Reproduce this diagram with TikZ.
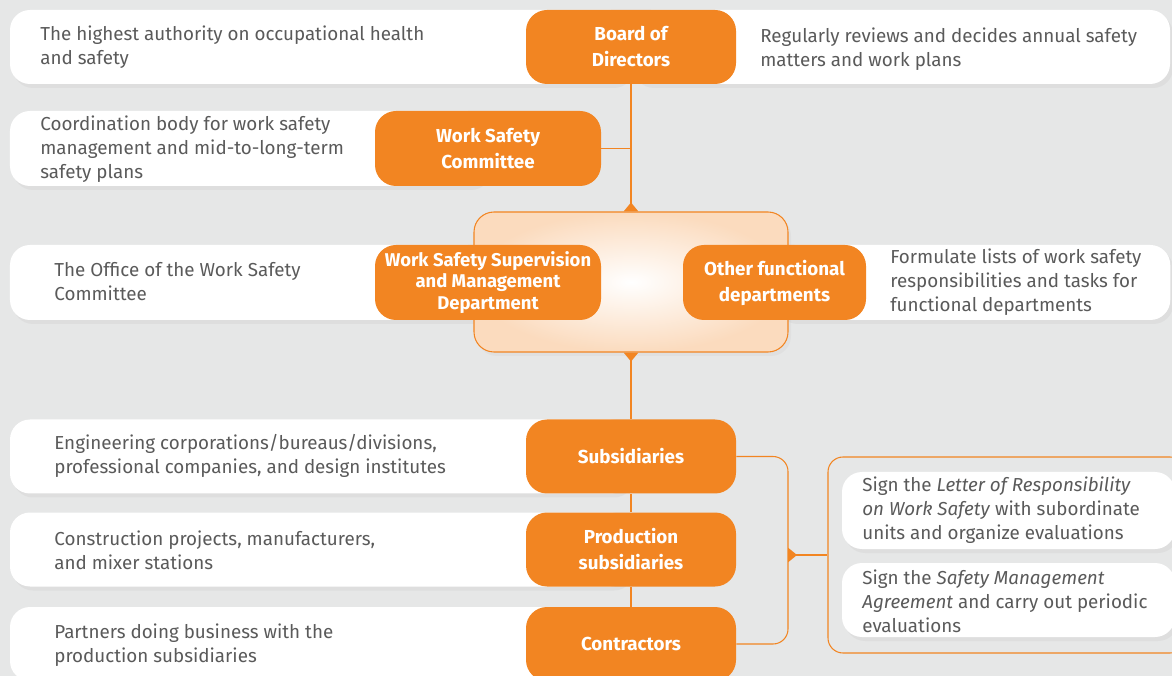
\documentclass[tikz,border=0pt]{standalone}
\usepackage{fontspec}
\setmainfont{Fira Sans}
\usetikzlibrary{positioning,shadows,arrows.meta}

\definecolor{bgGray}{HTML}{E6E7E7}
\definecolor{safeOrange}{HTML}{F28522}
\definecolor{peach}{HTML}{FBDBBE}
\definecolor{txtGray}{HTML}{5A5A5A}

\tikzset{
	card/.style={fill=white, rounded corners=0.4cm, minimum height=1.48cm, inner sep=0,
		drop shadow={opacity=0.08, shadow xshift=0.6mm, shadow yshift=-0.8mm}},
	unit/.style={fill=safeOrange, rounded corners=0.42cm, text=white, align=center,
		minimum height=1.48cm, inner sep=0, font=\fontsize{10.7}{14.8}\selectfont\bfseries},
	desc/.style={anchor=west, align=left, text=txtGray, inner sep=0,
		font=\fontsize{10.7}{13.7}\selectfont},
	link/.style={safeOrange, line width=0.6pt},
	tri/.tip={Triangle[reversed, width=2.9mm, length=1.8mm]}
}

\begin{document}
\begin{tikzpicture}
	\fill[bgGray] (0,0) rectangle (23.44,-13.52);
	\useasboundingbox (0,0) rectangle (23.44,-13.52);
	\clip (0,0) rectangle (23.44,-13.52);

	\node[card, minimum width=12.42cm] (c1l) at (6.41,-0.94) {};
	\node[card, minimum width=10.78cm] (c1r) at (18.01,-0.94) {};
	\node[card, minimum width=9.56cm, minimum height=1.5cm] (c2l) at (4.98,-2.97) {};
	\node[card, minimum width=9.56cm, minimum height=1.5cm] (c3l) at (4.98,-5.65) {};
	\node[card, minimum width=7.91cm, minimum height=1.5cm] (c3r) at (19.45,-5.65) {};
	\node[card, minimum width=12.42cm] (c4l) at (6.41,-9.13) {};
	\node[card, minimum width=12.42cm] (c5l) at (6.41,-10.99) {};
	\node[card, minimum width=12.42cm] (c6l) at (6.41,-12.88) {};

	\node[draw=safeOrange, line width=0.6pt, rounded corners=0.4cm, minimum width=6.28cm, minimum height=2.8cm,
		inner color=white, outer color=peach, drop shadow={opacity=0.06, shadow xshift=0.6mm, shadow yshift=-0.8mm}] (hub) at (12.62,-5.64) {};
	\node[draw=safeOrange, line width=0.6pt, rounded corners=0.3cm, minimum width=7.14cm, minimum height=3.92cm] (group) at (20.13,-11.1) {};
	\node[card, minimum width=6.66cm, minimum height=1.54cm] (g1) at (20.17,-10.21) {};
	\node[card, minimum width=6.66cm] (g2) at (20.17,-12.0) {};

	\node[unit, minimum width=4.2cm] (board) at (12.62,-0.94) {Board of\\Directors};
	\node[unit, minimum width=4.52cm, minimum height=1.5cm] (committee) at (9.76,-2.97) {Work Safety\\Committee};
	\node[unit, minimum width=4.52cm, minimum height=1.5cm, font=\fontsize{10.5}{12.2}\selectfont\bfseries] (office) at (9.76,-5.65) {Work Safety Supervision\\and Management\\Department};
	\node[unit, minimum width=3.66cm, minimum height=1.5cm] (others) at (15.49,-5.65) {Other functional\\departments};
	\node[unit, minimum width=4.2cm] (subs) at (12.62,-9.13) {Subsidiaries};
	\node[unit, minimum width=4.2cm] (prod) at (12.62,-10.99) {Production\\subsidiaries};
	\node[unit, minimum width=4.2cm] (contr) at (12.62,-12.88) {Contractors};

	\node[desc] (t1l) at (0.8,-0.94) {The highest authority on occupational health\\and safety};
	\node[desc] (t1r) at (15.2,-0.99) {Regularly reviews and decides annual safety\\matters and work plans};
	\node[desc] (t2l) at (0.8,-2.98) {Coordination body for work safety\\management and mid-to-long-term\\safety plans};
	\node[desc] (t3l) at (1.08,-5.64) {The Office of the Work Safety\\Committee};
	\node[desc] (t3r) at (17.8,-5.64) {Formulate lists of work safety\\responsibilities and tasks for\\functional departments};
	\node[desc] (t4l) at (1.08,-9.12) {Engineering corporations/bureaus/divisions,\\professional companies, and design institutes};
	\node[desc] (t5l) at (1.08,-11.0) {Construction projects, manufacturers,\\and mixer stations};
	\node[desc] (t6l) at (1.08,-12.9) {Partners doing business with the\\production subsidiaries};
	\node[desc] (tg1) at (17.24,-10.2) {Sign the \textit{Letter of Responsibility}\\\textit{on Work Safety} with subordinate\\units and organize evaluations};
	\node[desc] (tg2) at (17.24,-12.02) {Sign the \textit{Safety Management}\\\textit{Agreement} and carry out periodic\\evaluations};

	\coordinate (brk) at (15.76,-11.1);
	\draw[link, -tri] (board.south) -- (hub.north);
	\draw[link] (committee.east) -- (committee.east -| board.south);
	\draw[link, tri-] (hub.south) -- (subs.north);
	\draw[link] (subs.south) -- (prod.north);
	\draw[link] (prod.south) -- (contr.north);
	\draw[link, rounded corners=0.3cm] (subs.east) -| (brk) |- (contr.east);
	\draw[link, tri-] (brk) -- (group.west);
\end{tikzpicture}
\end{document}
